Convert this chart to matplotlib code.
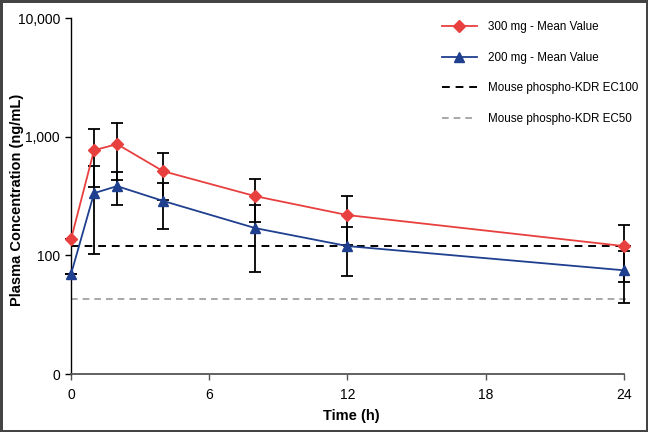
import matplotlib
matplotlib.use("Agg")
import matplotlib.pyplot as plt
from matplotlib.lines import Line2D
from matplotlib.ticker import FixedLocator, NullLocator

plt.rcParams['font.family'] = ['Liberation Sans', 'DejaVu Sans']

# sampling times (h)
time_h = [0, 1, 2, 4, 8, 12, 24]

# 300 mg dose: mean and SD (ng/mL)
mean_300 = [137, 771, 867, 513, 316, 219, 120]
sd_300 = [0, 393, 436, 218, 124, 97, 60]

# 200 mg dose: mean and SD (ng/mL)
mean_200 = [69.5, 335, 384, 288, 170, 120, 75]
sd_200 = [0, 233, 117, 120, 97, 53, 35]

# mouse phospho-KDR reference levels (ng/mL)
ec100 = 120
ec50 = 42.8

y_ticks = [10, 100, 1000, 10000]
y_tick_labels = ["0", "100", "1,000", "10,000"]
x_ticks = [0, 6, 12, 18, 24]

red = "#e8403f"
blue = "#1f3f8f"

fig = plt.figure(figsize=(6.48, 4.32), dpi=100)
fig.patch.set_edgecolor("#444444")
fig.patch.set_linewidth(2.5)
ax = fig.add_axes([0.1096, 0.134, 0.8654, 0.824])

ax.errorbar(time_h, mean_300, yerr=sd_300, color=red, marker="D", markersize=6,
            lw=1.3, ecolor="black", elinewidth=1.3, capsize=4, capthick=1.3,
            clip_on=False, zorder=3)
ax.errorbar(time_h, mean_200, yerr=sd_200, color=blue, marker="^", markersize=7,
            lw=1.3, ecolor="black", elinewidth=1.3, capsize=4, capthick=1.3,
            clip_on=False, zorder=3)

ax.plot([0, 24.3], [ec100, ec100], ls=(0, (4, 3)), color="black", lw=1.4, zorder=2)
ax.plot([0, 24.3], [ec50, ec50], ls=(0, (4, 3)), color="#999999", lw=1.2, zorder=2)

ax.set_yscale("log")
ax.set_ylim(10, 10000)
ax.set_xlim(0, 24.35)
ax.yaxis.set_major_locator(FixedLocator(y_ticks))
ax.yaxis.set_minor_locator(NullLocator())
ax.set_yticklabels(y_tick_labels)
ax.set_xticks(x_ticks)
ax.set_xticklabels([str(t) for t in x_ticks])

for side in ["top", "right"]:
    ax.spines[side].set_visible(False)
ax.spines["bottom"].set_bounds(0, 24)
ax.spines["bottom"].set_color("#555555")
ax.spines["bottom"].set_linewidth(1.3)
ax.spines["left"].set_linewidth(1.0)
ax.tick_params(axis="both", labelsize=10, length=4, width=1.0, pad=4)
ax.tick_params(axis="x", colors="#555555", labelcolor="black", pad=6)

ax.set_xlabel("Time (h)", fontsize=10.5, fontweight="bold", labelpad=5)
ax.set_ylabel("Plasma Concentration (ng/mL)", fontsize=10.5, fontweight="bold")
ax.yaxis.set_label_coords(-0.083, 0.49)

handles = [
    Line2D([], [], color=red, marker="D", markersize=6, lw=1.3),
    Line2D([], [], color=blue, marker="^", markersize=7, lw=1.3),
    Line2D([], [], color="black", ls=(0, (4, 3)), lw=1.4),
    Line2D([], [], color="#999999", ls=(0, (4, 3)), lw=1.2),
]
labels = ["300 mg - Mean Value", "200 mg - Mean Value",
          "Mouse phospho-KDR EC100", "Mouse phospho-KDR EC50"]
ax.legend(handles, labels, loc="upper left", bbox_to_anchor=(0.653, 1.005), frameon=False,
          fontsize=8.4, handlelength=3.0, labelspacing=1.6, handletextpad=0.95,
          borderaxespad=0.0)

fig.savefig("out.png", dpi=100, edgecolor=fig.get_edgecolor())
